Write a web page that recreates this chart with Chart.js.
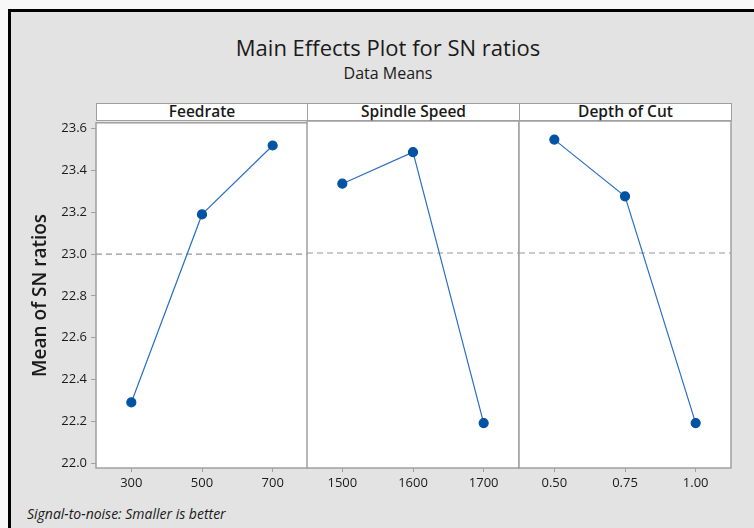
<!DOCTYPE html>
<html>
<head>
<meta charset="utf-8">
<script src="https://cdn.jsdelivr.net/npm/chart.js@4"></script>
<style>
  body { margin: 0; background: #f8f8f8; font-family: "Open Sans", sans-serif; color: #1a1a1a; }
  #frame { position: absolute; left: 8px; top: 9px; width: 746px; height: 519px;
           background: #e3e3e3; border-top: 3px solid #000; border-left: 3px solid #000; }
  .txt { position: absolute; white-space: nowrap; text-align: center; }
  .head { position: absolute; top: 103px; height: 18px; background: #fff; border: 1px solid #a0a0a0;
          box-sizing: border-box; text-align: center; font-size: 15.5px; font-weight: 600; line-height: 14px; }
  .wrap { position: absolute; top: 111px; height: 387px; }
</style>
</head>
<body>
<div id="frame"></div>
<div class="txt" style="left:188px;top:32px;width:400px;font-size:22px;line-height:30px;">Main Effects Plot for SN ratios</div>
<div class="txt" style="left:188px;top:62px;width:400px;font-size:16px;line-height:22px;">Data Means</div>
<div class="head" style="left:96px;width:212px;">Feedrate</div>
<div class="head" style="left:307px;width:213px;">Spindle Speed</div>
<div class="head" style="left:519px;width:213px;">Depth of Cut</div>
<div class="wrap" style="left:10px;width:299px;"><canvas id="c1" width="299" height="387"></canvas></div>
<div class="wrap" style="left:306px;width:214px;"><canvas id="c2" width="214" height="387"></canvas></div>
<div class="wrap" style="left:518px;width:214px;"><canvas id="c3" width="214" height="387"></canvas></div>
<div class="txt" style="left:27px;top:505px;font-size:14px;font-style:italic;line-height:18px;text-align:left;">Signal-to-noise: Smaller is better</div>

<script>
// factor levels and mean SN ratios
const feedrateLevels = ["300", "500", "700"];
const feedrateMeans = [22.29, 23.19, 23.52];
const spindleLevels = ["1500", "1600", "1700"];
const spindleMeans = [23.33, 23.48, 22.19];
const depthLevels = ["0.50", "0.75", "1.00"];
const depthMeans = [23.54, 23.27, 22.19];
const yTicks = [22.0, 22.2, 22.4, 22.6, 22.8, 23.0, 23.2, 23.4, 23.6];
const overallMean = 23.0;

Chart.defaults.font.family = "'Open Sans', sans-serif";
Chart.defaults.color = "#1a1a1a";

const frameColor = "#a0a0a0";

// white plot area, dashed overall mean line, grey frame
const panelFrame = {
  id: "panelFrame",
  beforeDraw(chart) {
    const { ctx, chartArea: a } = chart;
    ctx.save();
    ctx.fillStyle = "#fff";
    ctx.fillRect(a.left, a.top, a.right - a.left, a.bottom - a.top);
    ctx.restore();
  },
  beforeDatasetsDraw(chart) {
    const { ctx, chartArea: a, scales } = chart;
    const y = scales.y.getPixelForValue(overallMean);
    ctx.save();
    ctx.strokeStyle = "#959595";
    ctx.lineWidth = 1.2;
    ctx.setLineDash([6, 4]);
    ctx.beginPath();
    ctx.moveTo(a.left, y);
    ctx.lineTo(a.right, y);
    ctx.stroke();
    ctx.restore();
  },
  afterDraw(chart) {
    const { ctx, chartArea: a } = chart;
    ctx.save();
    ctx.strokeStyle = frameColor;
    ctx.lineWidth = 1.5;
    ctx.strokeRect(a.left, a.top, a.right - a.left, a.bottom - a.top);
    ctx.restore();
  },
};

function makePanel(id, levels, means, showY) {
  new Chart(document.getElementById(id), {
    type: "line",
    data: {
      labels: levels,
      datasets: [
        {
          data: means,
          borderColor: "#2b6fc4",
          borderWidth: 1.2,
          pointBackgroundColor: "#0052a3",
          pointBorderColor: "#0052a3",
          pointRadius: 4.5,
          tension: 0,
        },
      ],
    },
    options: {
      responsive: false,
      animation: false,
      layout: {
        autoPadding: false,
        padding: { top: 10, right: 1, left: showY ? 0 : 1, bottom: 0 },
      },
      plugins: { legend: { display: false }, tooltip: { enabled: false } },
      scales: {
        x: {
          type: "category",
          offset: true,
          grid: { drawOnChartArea: false, color: frameColor, tickLength: 4 },
          border: { display: false },
          ticks: { font: { size: 13 }, padding: 3, maxRotation: 0 },
          afterFit: (s) => {
            s.height = 30;
            s.paddingLeft = 0;
            s.paddingRight = 0;
          },
        },
        y: {
          display: showY,
          min: 22.0 - 5 / 210,
          max: 23.6 + 6 / 210,
          grid: { drawOnChartArea: false, color: frameColor, tickLength: 5 },
          border: { display: false },
          afterBuildTicks: (s) => { s.ticks = yTicks.map((v) => ({ value: v })); },
          ticks: { font: { size: 13 }, padding: 4, callback: (v) => Number(v).toFixed(1) },
          title: {
            display: true,
            text: "Mean of SN ratios",
            font: { size: 19, weight: "600" },
            padding: { top: 19, bottom: 0 },
          },
          afterFit: (s) => { s.width = showY ? 86 : 0; },
        },
      },
    },
    plugins: [panelFrame],
  });
}

makePanel("c1", feedrateLevels, feedrateMeans, true);
makePanel("c2", spindleLevels, spindleMeans, false);
makePanel("c3", depthLevels, depthMeans, false);
</script>
</body>
</html>
